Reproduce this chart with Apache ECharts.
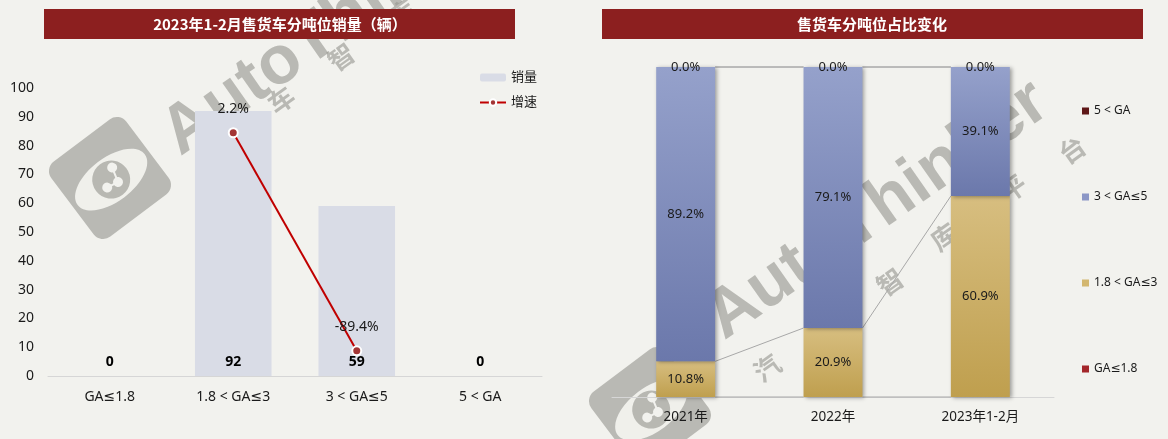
<!DOCTYPE html>
<html>
<head>
<meta charset="utf-8">
<script src="https://cdn.jsdelivr.net/npm/echarts@6/dist/echarts.min.js"></script>
<style>
  html, body { margin: 0; padding: 0; background: #F2F2EE; }
  #chart { width: 1168px; height: 439px; }
</style>
</head>
<body>
<div id="chart"></div>
<script>
// Tonnage bands (shared by both panels)
const sizeBands = ['GA≤1.8', '1.8 < GA≤3', '3 < GA≤5', '5 < GA'];
// Left panel: sales volume and growth per band, Jan–Feb 2023
const sales = [0, 92, 59, 0];
const growth = [null, 2.2, -89.4, null];
const salesTicks = { min: 0, max: 100, interval: 10 };
// Right panel: share of each band per period (%)
const periods = ['2021年', '2022年', '2023年1-2月'];
const shareUpTo18 = [0, 0, 0];
const share18to3 = [10.8, 20.9, 60.9];
const share3to5 = [89.2, 79.1, 39.1];
const shareOver5 = [0, 0, 0];

const leftTitle = '2023年1-2月售货车分吨位销量（辆）';
const rightTitle = '售货车分吨位占比变化';

const FONT = '"Noto Sans", "DejaVu Sans", "Noto Sans CJK SC", sans-serif';
const TXT = '#1a1a1a';

function grad(top, bottom) {
  return new echarts.graphic.LinearGradient(0, 0, 0, 1, [
    { offset: 0, color: top }, { offset: 1, color: bottom }
  ]);
}

// Boundaries between stacked segments, used for the connector lines
const shareSeries = [shareUpTo18, share18to3, share3to5, shareOver5];
const connectorData = [];
for (let level = 0; level < shareSeries.length; level++) {
  const tops = periods.map((_, i) => {
    let s = 0;
    for (let k = 0; k <= level; k++) s += shareSeries[k][i];
    return s;
  });
  for (let i = 0; i < periods.length - 1; i++) {
    connectorData.push([i, tops[i], tops[i + 1]]);
  }
}

// Faint brand watermark
const WM = 'rgba(150,150,144,0.62)';
function watermark(cx, cy, textX, textY, chars) {
  const els = [];
  const rot = 0.646;
  els.push({
    type: 'group', x: cx, y: cy, rotation: rot, z: -5,
    children: [
      { type: 'rect', shape: { x: -47, y: -47, width: 94, height: 94, r: 12 }, style: { fill: WM } },
      { type: 'ellipse', shape: { cx: 0, cy: 2, rx: 42, ry: 22 }, style: { fill: 'rgba(242,242,238,0.95)' } },
      { type: 'circle', shape: { cx: 0, cy: 2, r: 19 }, style: { fill: WM } },
      { type: 'circle', shape: { cx: -8, cy: 6, r: 5 }, style: { fill: '#F2F2EE' } },
      { type: 'circle', shape: { cx: 4, cy: 8, r: 5 }, style: { fill: '#F2F2EE' } },
      { type: 'circle', shape: { cx: 8, cy: -7, r: 5 }, style: { fill: '#F2F2EE' } },
      { type: 'polyline', shape: { points: [[-8, 6], [4, 8], [8, -7]] }, style: { stroke: '#F2F2EE', lineWidth: 2, fill: null } }
    ]
  });
  els.push({
    type: 'text', x: textX, y: textY, rotation: 0.61, z: -5,
    style: { text: 'AutoThinker', font: 'bold 68px "Liberation Sans", Arial, sans-serif', fill: WM, textVerticalAlign: 'bottom' }
  });
  chars.forEach(c => {
    els.push({
      type: 'text', x: c[1], y: c[2], rotation: 0.62, z: -5,
      style: { text: c[0], font: 'bold 26px "Noto Sans CJK SC", sans-serif', fill: WM, textAlign: 'center', textVerticalAlign: 'middle' }
    });
  });
  return els;
}

const graphics = [].concat(
  watermark(110, 178, 189, 169, [['汽', 220, 145], ['车', 281, 100], ['智', 341, 57], ['库', 402, 13]]),
  watermark(650, 408, 733, 353, [['汽', 767, 368], ['车', 827, 325], ['智', 890, 282], ['库', 944, 237], ['平', 1013, 188], ['台', 1072, 150]]),
  [
    { type: 'rect', z: 100, shape: { x: 44, y: 9, width: 471, height: 30 }, style: { fill: '#8C1F1F' } },
    { type: 'text', z: 101, x: 280, y: 24, style: { text: leftTitle, fill: '#fff', font: 'bold 15px "Noto Sans CJK SC", sans-serif', textAlign: 'center', textVerticalAlign: 'middle' } },
    { type: 'rect', z: 100, shape: { x: 602, y: 9, width: 541, height: 30 }, style: { fill: '#8C1F1F' } },
    { type: 'text', z: 101, x: 872, y: 24, style: { text: rightTitle, fill: '#fff', font: 'bold 15px "Noto Sans CJK SC", sans-serif', textAlign: 'center', textVerticalAlign: 'middle' } }
  ]
);

const blueGrad = grad('#95A1CB', '#6B78AB');
const goldGrad = grad('#D7BE80', '#BF9F4E');
const barShadow = { shadowColor: 'rgba(0,0,0,0.35)', shadowBlur: 4, shadowOffsetX: 2, shadowOffsetY: 1 };

const option = {
  backgroundColor: '#F2F2EE',
  animation: false,
  textStyle: { fontFamily: FONT },
  graphic: { elements: graphics },
  grid: [
    { left: 48, right: 626, top: 88, bottom: 63 },
    { left: 612, right: 114, top: 67, bottom: 42 }
  ],
  legend: [
    {
      orient: 'vertical', left: 474, top: 66, itemGap: 12,
      itemWidth: 26, itemHeight: 8,
      textStyle: { fontSize: 13, color: TXT, fontFamily: FONT },
      data: ['销量', '增速']
    },
    {
      orient: 'vertical', left: 1077, top: 100, itemGap: 74,
      itemWidth: 7, itemHeight: 7, icon: 'rect',
      textStyle: { fontSize: 12, color: TXT, fontFamily: FONT },
      data: [
        { name: sizeBands[3], itemStyle: { color: '#5E1717' } },
        { name: sizeBands[2], itemStyle: { color: '#8C97C6' } },
        { name: sizeBands[1], itemStyle: { color: '#D3B76F' } },
        { name: sizeBands[0], itemStyle: { color: '#A3262A' } }
      ]
    }
  ],
  xAxis: [
    {
      type: 'category', gridIndex: 0, data: sizeBands,
      axisLine: { lineStyle: { color: '#D6D6D6' } },
      axisTick: { length: 4, lineStyle: { color: '#D6D6D6' } },
      axisLabel: { fontSize: 14, color: TXT, margin: 14 }
    },
    {
      type: 'category', gridIndex: 1, data: periods,
      axisLine: { lineStyle: { color: '#D6D6D6' } },
      axisTick: { length: 4, lineStyle: { color: '#D6D6D6' } },
      axisLabel: { fontSize: 13.5, color: TXT, margin: 13 }
    }
  ],
  yAxis: [
    {
      type: 'value', gridIndex: 0, min: salesTicks.min, max: salesTicks.max, interval: salesTicks.interval,
      axisLine: { show: false }, axisTick: { show: false }, splitLine: { show: false },
      axisLabel: { fontSize: 14, color: TXT, margin: 14 }
    },
    {
      type: 'value', gridIndex: 0, min: -100, max: 21, show: false, splitLine: { show: false }
    },
    {
      type: 'value', gridIndex: 1, min: 0, max: 100, show: false, splitLine: { show: false }
    }
  ],
  series: [
    {
      name: '销量', type: 'bar', xAxisIndex: 0, yAxisIndex: 0, data: sales,
      barWidth: '62%', itemStyle: { color: '#D9DCE6' },
      label: { show: true, position: 'insideBottom', distance: 7, fontSize: 14, fontWeight: 'bold', color: '#000' }
    },
    {
      name: '增速', type: 'line', xAxisIndex: 0, yAxisIndex: 1, data: growth,
      lineStyle: { color: '#C00000', width: 2 },
      symbol: 'circle', symbolSize: 9,
      itemStyle: { color: '#A33535', borderColor: '#fff', borderWidth: 2 },
      label: { show: true, position: 'top', distance: 11, fontSize: 14, color: TXT, formatter: p => p.value + '%' }
    },
    {
      name: sizeBands[0], type: 'bar', stack: 'share', xAxisIndex: 1, yAxisIndex: 2, data: shareUpTo18,
      barWidth: '40%', itemStyle: Object.assign({ color: '#A3262A' }, barShadow),
      label: { show: false }
    },
    {
      name: sizeBands[1], type: 'bar', stack: 'share', xAxisIndex: 1, yAxisIndex: 2, data: share18to3,
      barWidth: '40%', itemStyle: Object.assign({ color: goldGrad }, barShadow),
      label: { show: true, position: 'inside', fontSize: 13, color: TXT, formatter: p => p.value.toFixed(1) + '%' }
    },
    {
      name: sizeBands[2], type: 'bar', stack: 'share', xAxisIndex: 1, yAxisIndex: 2, data: share3to5,
      barWidth: '40%', itemStyle: Object.assign({ color: blueGrad }, barShadow),
      label: { show: true, position: 'inside', fontSize: 13, color: TXT, formatter: p => p.value.toFixed(1) + '%' }
    },
    {
      name: sizeBands[3], type: 'bar', stack: 'share', xAxisIndex: 1, yAxisIndex: 2, data: shareOver5,
      barWidth: '40%', itemStyle: { color: '#5E1717' },
      label: { show: true, position: 'inside', fontSize: 13, color: TXT, formatter: p => p.value.toFixed(1) + '%' }
    },
    {
      // connector lines between the segment boundaries of neighbouring bars
      type: 'custom', xAxisIndex: 1, yAxisIndex: 2, data: connectorData, z: 1,
      encode: { x: 0, y: 1 }, silent: true,
      renderItem: (params, api) => {
        const i = api.value(0);
        const p1 = api.coord([i, api.value(1)]);
        const p2 = api.coord([i + 1, api.value(2)]);
        const half = api.size([1, 0])[0] * 0.2;
        return {
          type: 'line',
          shape: { x1: p1[0] + half, y1: p1[1], x2: p2[0] - half, y2: p2[1] },
          style: { stroke: '#A8A8A8', lineWidth: 1 }
        };
      }
    }
  ]
};

const chart = echarts.init(document.getElementById('chart'), null, { renderer: 'canvas' });
chart.setOption(option);
</script>
</body>
</html>
